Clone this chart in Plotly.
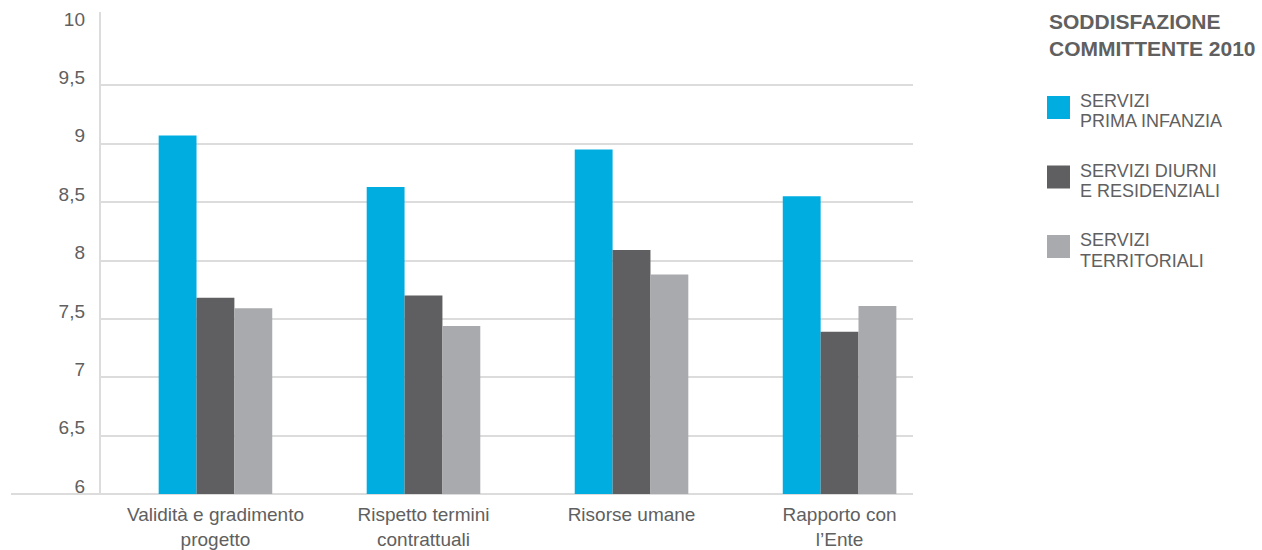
import plotly.graph_objects as go

# Data
categories = [
    "Validità e gradimento<br>progetto",
    "Rispetto termini<br>contrattuali",
    "Risorse umane",
    "Rapporto con<br>l’Ente",
]
series_names = [
    "SERVIZI<br>PRIMA INFANZIA",
    "SERVIZI DIURNI<br>E RESIDENZIALI",
    "SERVIZI<br>TERRITORIALI",
]
prima_infanzia = [9.07, 8.63, 8.95, 8.55]
diurni_residenziali = [7.68, 7.70, 8.09, 7.39]
territoriali = [7.59, 7.44, 7.88, 7.61]
series_values = [prima_infanzia, diurni_residenziali, territoriali]
y_ticks = [6, 6.5, 7, 7.5, 8, 8.5, 9, 9.5, 10]
y_tick_labels = ["6", "6,5", "7", "7,5", "8", "8,5", "9", "9,5", "10"]
legend_title = "SODDISFAZIONE<br>COMMITTENTE 2010"

colors = ["#00ADE1", "#5F5F61", "#A9AAAD"]
text_color = "#606060"
grid_color = "#DCDCDC"
FONT = "Liberation Sans, Arial, sans-serif"

W, H = 1262, 550
ML, MR, MT, MB = 100, 349, 27, 56
PW, PH = W - ML - MR, H - MT - MB


def px_x(x):
    return (x - ML) / PW


def px_y(y):
    return (H - MB - y) / PH


fig = go.Figure()
for name, vals, col in zip(series_names, series_values, colors):
    fig.add_trace(go.Bar(x=categories, y=vals, name=name, marker_color=col,
                         marker_line_width=0, showlegend=False))

shapes = [
    # vertical axis line, extending slightly above the plot
    dict(type="line", xref="paper", yref="paper", x0=0, x1=0,
         y0=0, y1=px_y(12), line=dict(color=grid_color, width=2), layer="below"),
    # baseline extending to the left under the tick labels
    dict(type="line", xref="paper", yref="paper", x0=px_x(11), x1=1,
         y0=0, y1=0, line=dict(color=grid_color, width=2), layer="below"),
]

annotations = [
    dict(text="<b>" + legend_title + "</b>", xref="paper", yref="paper",
         x=px_x(1047), y=px_y(8), xanchor="left", yanchor="top", align="left",
         showarrow=False, font=dict(family=FONT, size=21, color=text_color)),
]

pitch = 69.5
for i, (name, col) in enumerate(zip(series_names, colors)):
    top = 96 + pitch * i
    shapes.append(dict(type="rect", xref="paper", yref="paper",
                       x0=px_x(1047), x1=px_x(1070), y0=px_y(top + 23), y1=px_y(top),
                       fillcolor=col, line=dict(width=0)))
    for j, line in enumerate(name.split("<br>")):
        annotations.append(dict(
            text=line, xref="paper", yref="paper",
            x=px_x(1078), y=px_y(101 + 20.5 * j + pitch * i),
            xanchor="left", yanchor="middle", showarrow=False,
            font=dict(family=FONT, size=18, color=text_color)))

fig.update_layout(
    width=W, height=H,
    margin=dict(l=ML, r=MR, t=MT, b=MB, pad=0),
    paper_bgcolor="white", plot_bgcolor="white",
    barmode="group", bargap=0.454, bargroupgap=0,
    font=dict(family=FONT, color=text_color),
    shapes=shapes, annotations=annotations,
    xaxis=dict(range=[-0.555, 3.353], showgrid=False, showline=False,
               zeroline=False, ticks="", tickfont=dict(size=19, color=text_color),
               ticklabelstandoff=7, automargin=False, fixedrange=True),
    yaxis=dict(range=[6, 10], tickvals=y_ticks, ticktext=y_tick_labels,
               showgrid=True, gridcolor=grid_color, gridwidth=2,
               showline=False, zeroline=False, ticks="",
               tickfont=dict(size=19, color=text_color),
               ticklabelstandoff=14, ticklabelshift=-8, automargin=False,
               fixedrange=True),
)

fig.write_html("out.html")
